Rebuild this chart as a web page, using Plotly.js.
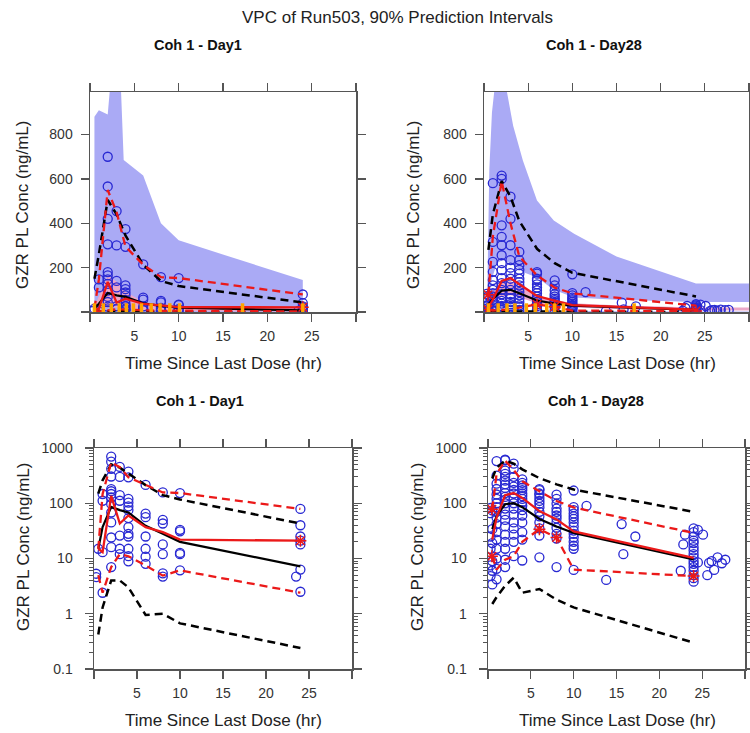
<!DOCTYPE html>
<html>
<head>
<meta charset="utf-8">
<script src="https://cdn.plot.ly/plotly-3.0.1.min.js"></script>
<style>html,body{margin:0;padding:0;background:#fff;}#chart{width:750px;height:733px;}</style>
</head>
<body>
<div id="chart"></div>
<script>
// ---------- DATA ----------
const pctTime = [0.5, 1, 2, 3, 4, 6, 8, 10, 24];

// Day 1 simulated / observed percentiles
const d1SimP95 = [150, 260, 505, 440, 345, 213, 140, 117, 43];
const d1SimP50 = [15, 37, 86, 75, 68, 39, 28, 20, 7.2];
const d1SimP05 = [0.42, 1.3, 4.0, 4.0, 3.0, 0.95, 1.0, 0.67, 0.24];
const d1ObsP95 = [15, 147, 550, 450, 295, 213, 157, 153, 79];
const d1ObsP50 = [15, 13, 136, 43, 60, 37, 30, 22, 21];
const d1ObsP05 = [5.0, 2.4, 7, 12, 11, 7.5, 4.9, 6.1, 2.4];

// Day 28 simulated / observed percentiles
const d28SimP95 = [280, 440, 590, 520, 410, 285, 220, 177, 70];
const d28SimP50 = [34, 59, 96, 100, 85, 52, 38, 29, 9.6];
const d28SimP05 = [1.5, 2.0, 3.2, 4.5, 2.4, 2.8, 1.8, 1.3, 0.30];
const d28ObsP95 = [78, 340, 590, 400, 250, 165, 110, 84, 29];
const d28ObsP50 = [22, 55, 140, 153, 125, 72, 51, 31, 10.3];
const d28ObsP05 = [11, 6.3, 9.5, 11, 20, 34, 24, 6.3, 4.8];

// Day 1 observations
const d1ObsTime = [0.25, 0.25, 0.5,
  1, 1, 1, 1,
  2, 2, 2, 2, 2, 2, 2, 2, 2, 2, 2, 2, 2, 2,
  3, 3, 3, 3, 3, 3, 3,
  4, 4, 4, 4, 4, 4, 4, 4, 4, 4, 4, 4, 4,
  6, 6, 6, 6, 6, 6, 6,
  8, 8, 8, 8, 8, 8, 8,
  10, 10, 10, 10, 10, 10,
  24, 24, 24, 24, 24, 24, 24, 23.5];
const d1ObsConc = [5.3, 4.6, 15,
  2.4, 13, 111, 147,
  700, 566, 420, 305, 180, 165, 147, 127, 97, 68, 45, 24, 16, 7,
  455, 300, 140, 111, 26, 15, 12,
  374, 294, 120, 103, 88, 75, 54, 37, 28, 25, 15, 11, 8.9,
  215, 65, 56, 25, 15, 10.8, 8,
  157, 50, 43, 18, 12, 5.4, 4.7,
  153, 33, 31, 12.6, 12, 6.1,
  79, 40, 25, 21, 18, 6.3, 2.5, 4.7];

// Day 28 observations
const d28ObsTime = [
  0.3, 0.5, 0.3, 0.5, 0.3, 0.5, 0.3, 0.5, 0.3, 0.5, 0.3, 0.5,
  1, 1, 1, 1, 1, 1, 1, 1, 1, 1, 1, 1, 1, 1, 1, 1, 1,
  2, 2, 2, 2, 2, 2, 2, 2, 2, 2, 2, 2, 2, 2, 2, 2, 2, 2, 2, 2, 2,
  3, 3, 3, 3, 3, 3, 3, 3, 3, 3, 3, 3, 3, 3, 3, 3,
  4, 4, 4, 4, 4, 4, 4, 4, 4, 4, 4, 4, 4, 4, 4, 4,
  6, 6, 6, 6, 6, 6, 6, 6, 6, 6, 6, 6, 6, 6,
  8, 8, 8, 8, 8, 8, 8, 8, 8, 8, 8, 8,
  10, 10, 10, 10, 10, 10, 10, 10, 10, 10, 10, 10, 10, 10, 10,
  11.5, 13.8, 15.6, 15.8, 17.2, 22.5, 23, 22.8,
  24, 24, 24, 24, 24, 24, 24, 24, 24, 24, 24, 24, 24, 24, 24, 24,
  24.5, 24.5, 25.1, 25.8, 25.6, 26.1, 26.4, 26.8, 27.3, 27.7];
const d28ObsConc = [
  82, 74, 66, 34, 25, 19, 15, 9, 7.5, 6, 4.8, 3.4,
  581, 316, 226, 181, 144, 120, 100, 85, 70, 55, 42, 30, 22, 15, 10, 6.5, 4.2,
  615, 600, 391, 339, 301, 256, 220, 189, 153, 130, 116, 100, 80, 62, 50, 38, 27, 20, 15, 9.5, 7,
  520, 420, 301, 234, 200, 175, 150, 125, 100, 80, 62, 45, 35, 27, 20, 11,
  271, 234, 211, 190, 173, 150, 135, 120, 105, 90, 75, 60, 45, 30, 22, 9.2,
  180, 173, 150, 143, 125, 110, 98, 85, 70, 58, 45, 35, 26, 10.5,
  143, 120, 98, 80, 70, 60, 53, 45, 36, 28, 23, 7,
  170, 85, 75, 65, 58, 52, 45, 38, 32, 28, 24, 20, 17, 15, 6.2,
  90, 4.1, 42, 12, 25, 6, 27, 18,
  35, 30, 25, 21, 19, 16, 14, 12, 10.5, 9, 8, 7, 6, 5, 4.4, 3.8,
  33, 8.5, 27, 8.3, 5.0, 9, 6.2, 10.5, 8.2, 9.5];

// Observed percentiles outside the simulated CIs (asterisks)
const d1StarTime = [24];
const d1StarConc = [21];
const d28StarTime = [0.45, 0.45, 6, 8, 24];
const d28StarConc = [78, 11, 34, 24, 4.8];

// Prediction-interval bands (linear panels)
const d1Band95Time  = [0.5, 1, 2, 2.45, 3.4, 3.8, 6, 8, 10, 24];
const d1Band95Upper = [880, 910, 890, 1100, 1100, 685, 615, 400, 323, 144];
const d1Band95Lower = [0, 0, 0, 0, 0, 0, 0, 0, 0, 0];
const d1BandMedTime  = [0.5, 1, 2, 3, 4, 6, 8, 10, 24];
const d1BandMedUpper = [25, 70, 166, 136, 91, 46, 30, 25, 15];
const d1BandMedLower = [2, 8, 20, 20, 15, 8, 5, 4, 2];

const d28Band95Time  = [0.4, 0.6, 0.9, 1.45, 2.1, 3.3, 4.4, 6, 7.9, 10.2, 15, 24, 30];
const d28Band95Upper = [150, 640, 900, 1100, 1100, 840, 683, 503, 413, 353, 250, 129, 129];
const d28Band95Lower = [30, 80, 150, 220, 235, 215, 180, 155, 100, 65, 55, 45, 45];
const d28BandMedTime  = [0.4, 1, 2, 3, 4, 6, 8, 10, 15, 24, 30];
const d28BandMedUpper = [50, 95, 135, 140, 115, 75, 55, 40, 30, 20, 20];
const d28BandMedLower = [15, 40, 70, 75, 65, 40, 28, 20, 13, 7, 7];
const d28Band05Upper  = [3, 5, 7, 8, 6, 6, 5, 4, 3, 2, 2];
const d28Band05Lower  = [0, 0, 0, 0, 0, 0, 0, 0, 0, 0, 0];

// BLQ marks (orange)
const d1BlqTime = [0.5, 1.5, 2.4, 3.3, 4.1, 4.9, 5.8, 6.9, 7.9, 9.0, 10.1, 17.2, 24];
const d1BlqConc = [14, 14, 14, 14, 14, 14, 14, 14, 14, 14, 14, 14, 14];
const d28BlqTime = [0.5, 1.6, 2.6, 3.5, 4.8, 5.8, 7.1, 8.0, 9.0, 17.0];
const d28BlqConc = [14, 14, 14, 14, 14, 14, 14, 14, 14, 14];

// ---------- STYLE / BUILD ----------
const FONT = '"Liberation Sans", Arial, Helvetica, sans-serif';
const BLUE_BAND = 'rgb(170,170,245)';
const PINK_BAND = 'rgb(236,168,200)';
const CIRCLE = 'rgb(40,40,210)';
const RED = 'rgb(235,25,25)';
const DASH = '8px,5px';

function band(t, up, lo, color, xa, ya) {
  return {x: t.concat(t.slice().reverse()), y: up.concat(lo.slice().reverse()),
    fill: 'toself', fillcolor: color, mode: 'none', line: {width: 0},
    xaxis: xa, yaxis: ya, hoverinfo: 'skip', showlegend: false};
}
function line(t, v, color, dash, width, xa, ya) {
  return {x: t, y: v, mode: 'lines', line: {color: color, dash: dash, width: width},
    xaxis: xa, yaxis: ya, showlegend: false};
}
function panel(xa, ya, obsT, obsC, p95s, p50s, p05s, p95o, p50o, p05o, starT, starC) {
  return [
    {x: obsT, y: obsC, mode: 'markers', xaxis: xa, yaxis: ya, showlegend: false,
      marker: {symbol: 'circle-open', size: 9, color: CIRCLE, line: {width: 1.3, color: CIRCLE}}},
    line(pctTime, p95s, 'black', DASH, 2.5, xa, ya),
    line(pctTime, p05s, 'black', DASH, 2.5, xa, ya),
    line(pctTime, p50s, 'black', 'solid', 2.2, xa, ya),
    line(pctTime, p95o, RED, DASH, 2.3, xa, ya),
    line(pctTime, p05o, RED, DASH, 2.3, xa, ya),
    line(pctTime, p50o, RED, 'solid', 2.3, xa, ya),
    {x: starT, y: starC, mode: 'markers', xaxis: xa, yaxis: ya, showlegend: false,
      marker: {symbol: 'asterisk-open', size: 10, color: RED, line: {width: 1.5, color: RED}}}
  ];
}
function blq(t, v, xa, ya) {
  return {x: t, y: v, mode: 'markers', xaxis: xa, yaxis: ya, showlegend: false,
    marker: {symbol: 'line-ns-open', size: 8, color: 'rgb(255,165,0)', line: {width: 3.5, color: 'rgb(255,165,0)'}}};
}

const traces = [].concat(
  // Top-left: Day 1 linear
  [band(d1Band95Time, d1Band95Upper, d1Band95Lower, BLUE_BAND, 'x', 'y'),
   band(d1BandMedTime, d1BandMedUpper, d1BandMedLower, PINK_BAND, 'x', 'y')],
  panel('x', 'y', d1ObsTime, d1ObsConc, d1SimP95, d1SimP50, d1SimP05, d1ObsP95, d1ObsP50, d1ObsP05, d1StarTime, d1StarConc),
  [blq(d1BlqTime, d1BlqConc, 'x', 'y')],
  // Top-right: Day 28 linear
  [band(d28Band95Time, d28Band95Upper, d28Band95Lower, BLUE_BAND, 'x2', 'y2'),
   band(d28BandMedTime, d28BandMedUpper, d28BandMedLower, PINK_BAND, 'x2', 'y2'),
   band(d28BandMedTime, d28Band05Upper, d28Band05Lower, BLUE_BAND, 'x2', 'y2')],
  panel('x2', 'y2', d28ObsTime, d28ObsConc, d28SimP95, d28SimP50, d28SimP05, d28ObsP95, d28ObsP50, d28ObsP05, d28StarTime, d28StarConc),
  [blq(d28BlqTime, d28BlqConc, 'x2', 'y2')],
  // Bottom-left: Day 1 log
  panel('x3', 'y3', d1ObsTime, d1ObsConc, d1SimP95, d1SimP50, d1SimP05, d1ObsP95, d1ObsP50, d1ObsP05, d1StarTime, d1StarConc),
  // Bottom-right: Day 28 log
  panel('x4', 'y4', d28ObsTime, d28ObsConc, d28SimP95, d28SimP50, d28SimP05, d28ObsP95, d28ObsP50, d28ObsP05, d28StarTime, d28StarConc)
);

const W = 750, H = 733;
function px(x) { return x / W; }
function py(y) { return (H - y) / H; }

const baseAxis = {
  showgrid: false, zeroline: false, showline: true, linecolor: '#555', linewidth: 1.5,
  mirror: 'ticks', ticks: 'outside', ticklen: 8, tickwidth: 1.3, tickcolor: '#555',
  tickfont: {size: 14, color: '#333', family: FONT}
};
function xAxis(dom, anchor) {
  return Object.assign({}, baseAxis, {domain: dom, anchor: anchor, range: [0, 30],
    tickvals: [0, 5, 10, 15, 20, 25, 30], ticktext: ['', '5', '10', '15', '20', '25', ''],
    ticklabelstandoff: 3});
}
function yLin(dom, anchor) {
  return Object.assign({}, baseAxis, {domain: dom, anchor: anchor, range: [0, 992],
    tickvals: [0, 200, 400, 600, 800], ticktext: ['', '200', '400', '600', '800'],
    ticklabelstandoff: 5});
}
function yLog(dom, anchor) {
  return Object.assign({}, baseAxis, {domain: dom, anchor: anchor, type: 'log', range: [-1, 3],
    tickvals: [0.1, 1, 10, 100, 1000], ticktext: ['0.1', '1', '10', '100', '1000'],
    ticklabelstandoff: 9,
    minor: {ticks: 'outside', ticklen: 4, tickwidth: 1, tickcolor: '#555', dtick: 'D1', showgrid: false}});
}

const topY = [py(312), py(92)];
const botY = [py(669), py(448)];

const titleFont = {family: FONT, size: 17, color: '#222'};
const subFont = {family: FONT, size: 14.5, color: '#111', weight: 'bold'};
function ann(text, x, y, font, angle) {
  return {text: text, x: px(x), y: py(y), xref: 'paper', yref: 'paper', showarrow: false,
    xanchor: 'center', yanchor: 'middle', font: font, textangle: angle || 0};
}

const layout = {
  width: W, height: H, margin: {l: 0, r: 0, t: 0, b: 0},
  paper_bgcolor: 'white', plot_bgcolor: 'white', showlegend: false,
  xaxis: xAxis([px(90), px(356)], 'y'),
  yaxis: yLin(topY, 'x'),
  xaxis2: xAxis([px(484), px(749)], 'y2'),
  yaxis2: yLin(topY, 'x2'),
  xaxis3: xAxis([px(94), px(352)], 'y3'),
  yaxis3: yLog(botY, 'x3'),
  xaxis4: xAxis([px(488), px(745)], 'y4'),
  yaxis4: yLog(botY, 'x4'),
  annotations: [
    ann('VPC of Run503, 90% Prediction Intervals', 397, 18, titleFont),
    ann('<b>Coh 1 - Day1</b>', 198, 45, subFont),
    ann('<b>Coh 1 - Day28</b>', 594, 45, subFont),
    ann('<b>Coh 1 - Day1</b>', 200, 401, subFont),
    ann('<b>Coh 1 - Day28</b>', 596, 401, subFont),
    ann('Time Since Last Dose (hr)', 223, 363, titleFont),
    ann('Time Since Last Dose (hr)', 617, 363, titleFont),
    ann('Time Since Last Dose (hr)', 223, 720, titleFont),
    ann('Time Since Last Dose (hr)', 617, 720, titleFont),
    ann('GZR PL Conc (ng/mL)', 23, 205, titleFont, -90),
    ann('GZR PL Conc (ng/mL)', 414, 205, titleFont, -90),
    ann('GZR PL Conc (ng/mL)', 23, 547, titleFont, -90),
    ann('GZR PL Conc (ng/mL)', 417, 547, titleFont, -90)
  ]
};

Plotly.newPlot('chart', traces, layout, {staticPlot: true, displayModeBar: false});
</script>
</body>
</html>
